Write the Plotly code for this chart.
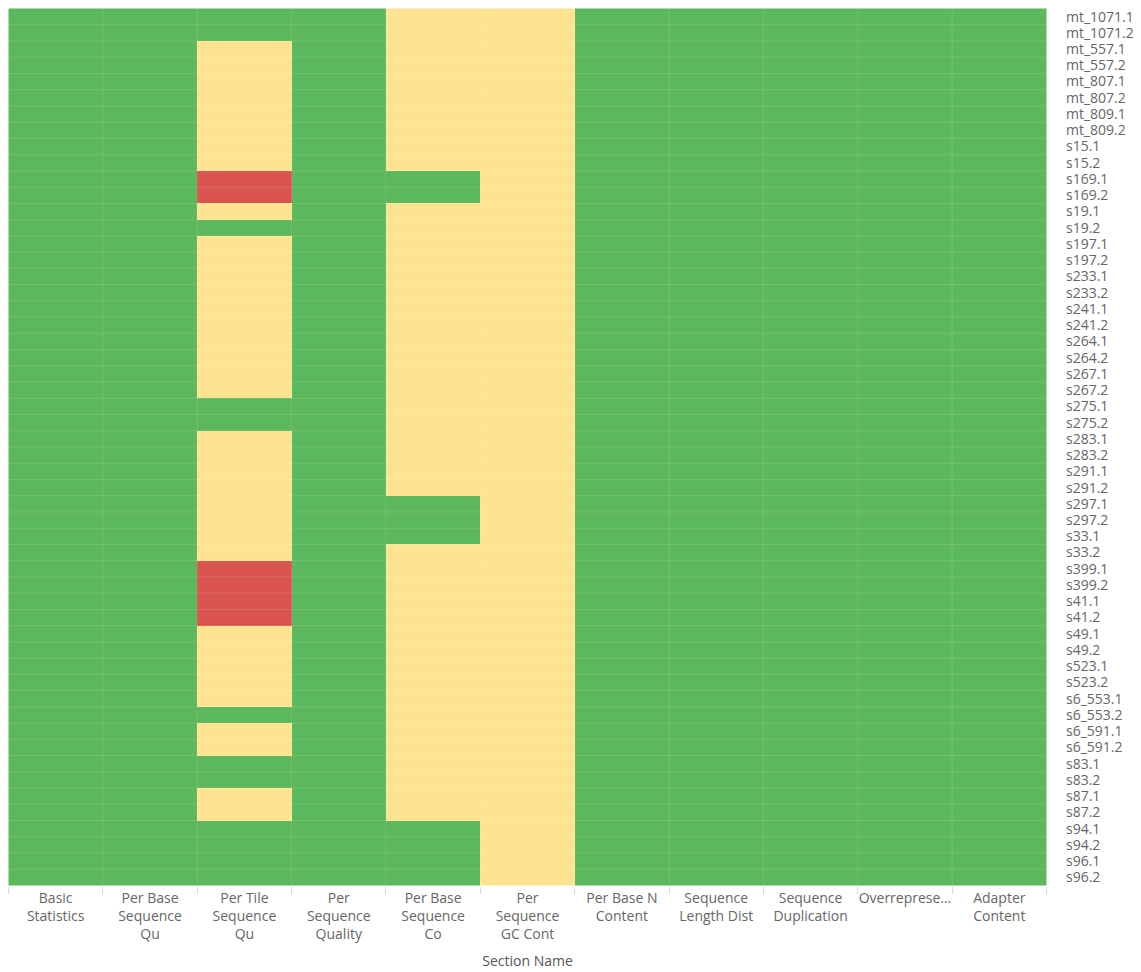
import plotly.graph_objects as go

# FastQC module names (wrapped/truncated as displayed on the axis)
sections = [
    "Basic<br>Statistics",
    "Per Base<br>Sequence<br>Qu",
    "Per Tile<br>Sequence<br>Qu",
    "Per<br>Sequence<br>Quality",
    "Per Base<br>Sequence<br>Co",
    "Per<br>Sequence<br>GC Cont",
    "Per Base N<br>Content",
    "Sequence<br>Length Dist",
    "Sequence<br>Duplication",
    "Overrepresе…",
    "Adapter<br>Content",
]

samples = [
    "mt_1071.1", "mt_1071.2", "mt_557.1", "mt_557.2", "mt_807.1", "mt_807.2",
    "mt_809.1", "mt_809.2", "s15.1", "s15.2", "s169.1", "s169.2", "s19.1", "s19.2",
    "s197.1", "s197.2", "s233.1", "s233.2", "s241.1", "s241.2", "s264.1", "s264.2",
    "s267.1", "s267.2", "s275.1", "s275.2", "s283.1", "s283.2", "s291.1", "s291.2",
    "s297.1", "s297.2", "s33.1", "s33.2", "s399.1", "s399.2", "s41.1", "s41.2",
    "s49.1", "s49.2", "s523.1", "s523.2", "s6_553.1", "s6_553.2", "s6_591.1",
    "s6_591.2", "s83.1", "s83.2", "s87.1", "s87.2", "s94.1", "s94.2", "s96.1", "s96.2",
]

# Per-module status for each sample, in sample order: P = pass, W = warn, F = fail
basic_statistics      = "P" * 54
per_base_seq_quality  = "P" * 54
per_tile_seq_quality  = ("PP" + "WWWWWWWW" + "FF" + "W" + "P" + "WWWWWWWWWW" + "PP"
                         + "WWWWWWWW" + "FFFF" + "WWWWW" + "P" + "WW" + "PP" + "WW" + "PPPP")
per_seq_quality       = "P" * 54
per_base_seq_content  = ("WWWWWWWWWW" + "PP" + "WWWWWWWWWWWWWWWWWW" + "PPP"
                         + "WWWWWWWWWWWWWWWWW" + "PPPP")
per_seq_gc_content    = "W" * 54
per_base_n_content    = "P" * 54
seq_length_dist       = "P" * 54
seq_duplication       = "P" * 54
overrepresented_seqs  = "P" * 54
adapter_content       = "P" * 54

columns = [
    basic_statistics, per_base_seq_quality, per_tile_seq_quality, per_seq_quality,
    per_base_seq_content, per_seq_gc_content, per_base_n_content, seq_length_dist,
    seq_duplication, overrepresented_seqs, adapter_content,
]

status_value = {"P": 0, "W": 1, "F": 2}
status_name = {"P": "pass", "W": "warn", "F": "fail"}

z = [[status_value[col[i]] for col in columns] for i in range(len(samples))]
text = [[status_name[col[i]] for col in columns] for i in range(len(samples))]

green, yellow, red = "#5cb85c", "#fee391", "#d9534f"
colorscale = [
    [0.0, green], [1 / 3, green],
    [1 / 3, yellow], [2 / 3, yellow],
    [2 / 3, red], [1.0, red],
]

fig = go.Figure(
    go.Heatmap(
        z=z,
        x=sections,
        y=samples,
        text=text,
        zmin=-0.5,
        zmax=2.5,
        colorscale=colorscale,
        showscale=False,
        hovertemplate="%{y}<br>%{x}: %{text}<extra></extra>",
    )
)

# faint cell separators drawn over the heatmap
nrows, ncols = len(samples), len(sections)
sep = dict(color="rgba(255,255,255,0.13)", width=1)
shapes = []
for i in range(1, nrows):
    shapes.append(dict(type="line", xref="x", yref="y", x0=-0.5, x1=ncols - 0.5,
                       y0=i - 0.5, y1=i - 0.5, line=sep, layer="above"))
for j in range(1, ncols):
    shapes.append(dict(type="line", xref="x", yref="y", x0=j - 0.5, x1=j - 0.5,
                       y0=-0.5, y1=nrows - 0.5, line=sep, layer="above"))

fig.update_layout(
    width=1141,
    height=972,
    margin=dict(l=8, r=94, t=8, b=86),
    paper_bgcolor="white",
    plot_bgcolor="white",
    font=dict(family="Open Sans, Noto Sans, sans-serif", size=14, color="#666666"),
    shapes=shapes,
    xaxis=dict(
        title=dict(text="Section Name", standoff=13, font=dict(size=14, color="#555555")),
        type="category",
        automargin=False,
        tickson="boundaries",
        ticks="outside",
        ticklen=7,
        tickcolor="#d3d9e8",
        ticklabelstandoff=2,
        tickfont=dict(size=14, color="#666666"),
        tickangle=0,
        showgrid=False,
        zeroline=False,
        showline=False,
    ),
    yaxis=dict(
        type="category",
        side="right",
        automargin=False,
        autorange="reversed",
        tickmode="linear",
        dtick=1,
        ticks="",
        ticklabelstandoff=18,
        tickfont=dict(size=14, color="#666666"),
        showgrid=False,
        zeroline=False,
        showline=False,
    ),
)

fig.write_html("out.html")
